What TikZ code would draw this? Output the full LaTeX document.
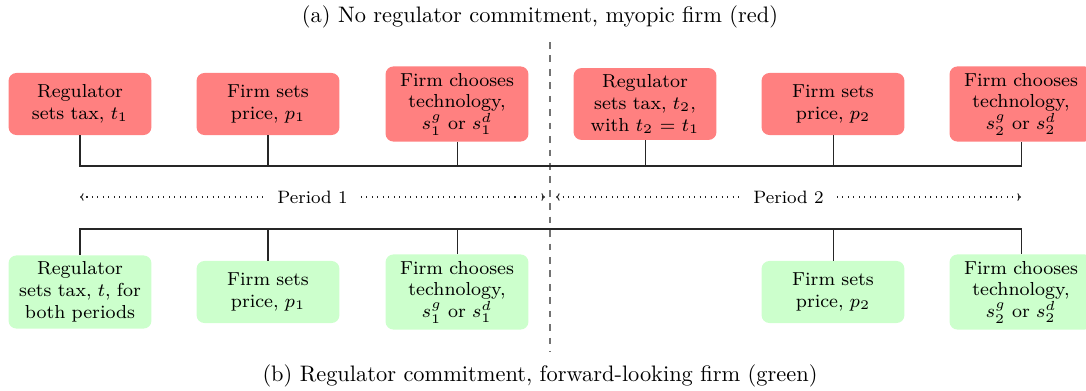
\RequirePackage{fix-cm}
\documentclass[tikz,border=0pt]{standalone}
\usepackage{fontspec}
\usetikzlibrary{arrows.meta}
\begin{document}
\begin{tikzpicture}[x=0.4465pt, y=-0.4465pt,
  event/.style={rounded corners=3.5pt, text width=55pt, inner xsep=4.4pt,
    inner ysep=2.9pt, minimum height=27.7pt, align=center,
    font=\fontsize{8.4}{9.7}\selectfont},
  myopic/.style={event, fill=red!50},
  forward/.style={event, fill=green!20},
  link/.style={line width=0.45pt, black!85},
  divider/.style={dashed, line width=0.8pt, black!55},
  span/.style={dotted, line width=0.45pt, black!85, {To[length=1.6pt,width=3.4pt]}-{To[length=1.6pt,width=3.4pt]}},
  periodlabel/.style={fill=white, inner xsep=5pt, inner ysep=1pt, text=black,
    font=\fontsize{8}{9.5}\selectfont},
  caption/.style={font=\fontsize{10}{12}\selectfont, inner sep=0pt}]
\useasboundingbox (0,0) rectangle (1086,391);

% headings of the two scenarios
\node[caption] (capa) at (540,17) {(a) No regulator commitment, myopic firm (red)};
\node[caption] (capb) at (540,376) {(b) Regulator commitment, forward-looking firm (green)};

% separation between the two periods
\coordinate (divtop) at (550,42);
\coordinate (divbot) at (550,352);
\draw[divider] (divtop) -- (divbot);

% scenario (a): myopic firm
\node[myopic] (a1) at (80,104)   {Regulator sets tax, $t_1$};
\node[myopic] (a2) at (268,104)  {Firm sets price, $p_1$};
\node[myopic] (a3) at (457,104)  {Firm chooses technology, $s_1^g$ or $s_1^d$};
\node[myopic] (a4) at (645,104)  {Regulator sets tax, $t_2$, with $t_2=t_1$};
\node[myopic] (a5) at (833,104)  {Firm sets price, $p_2$};
\node[myopic] (a6) at (1021,104) {Firm chooses technology, $s_2^g$ or $s_2^d$};

\coordinate (ruleA) at (0,166);
\draw[link] (a1.south) -- (a1.south |- ruleA) -- (a6.south |- ruleA) -- (a6.south);
\foreach \n in {a2,a3,a4,a5}
  \draw[link] (\n.south) -- (\n.south |- ruleA);

% period spans
\coordinate (p1l) at (80,197);
\coordinate (p1r) at (545,197);
\coordinate (p2l) at (556,197);
\coordinate (p2r) at (1021,197);
\draw[span] (p1l) -- node[periodlabel] (per1) {Period 1} (p1r);
\draw[span] (p2l) -- node[periodlabel] (per2) {Period 2} (p2r);

% scenario (b): forward-looking firm
\node[forward] (b1) at (80,292)   {Regulator sets tax, $t$, for both periods};
\node[forward] (b2) at (268,292)  {Firm sets price, $p_1$};
\node[forward] (b3) at (457,292)  {Firm chooses technology, $s_1^g$ or $s_1^d$};
\node[forward] (b5) at (833,292)  {Firm sets price, $p_2$};
\node[forward] (b6) at (1021,292) {Firm chooses technology, $s_2^g$ or $s_2^d$};

\coordinate (ruleB) at (0,229);
\draw[link] (b1.north) -- (b1.north |- ruleB) -- (b6.north |- ruleB) -- (b6.north);
\foreach \n in {b2,b3,b5}
  \draw[link] (\n.north) -- (\n.north |- ruleB);
\end{tikzpicture}
\end{document}
